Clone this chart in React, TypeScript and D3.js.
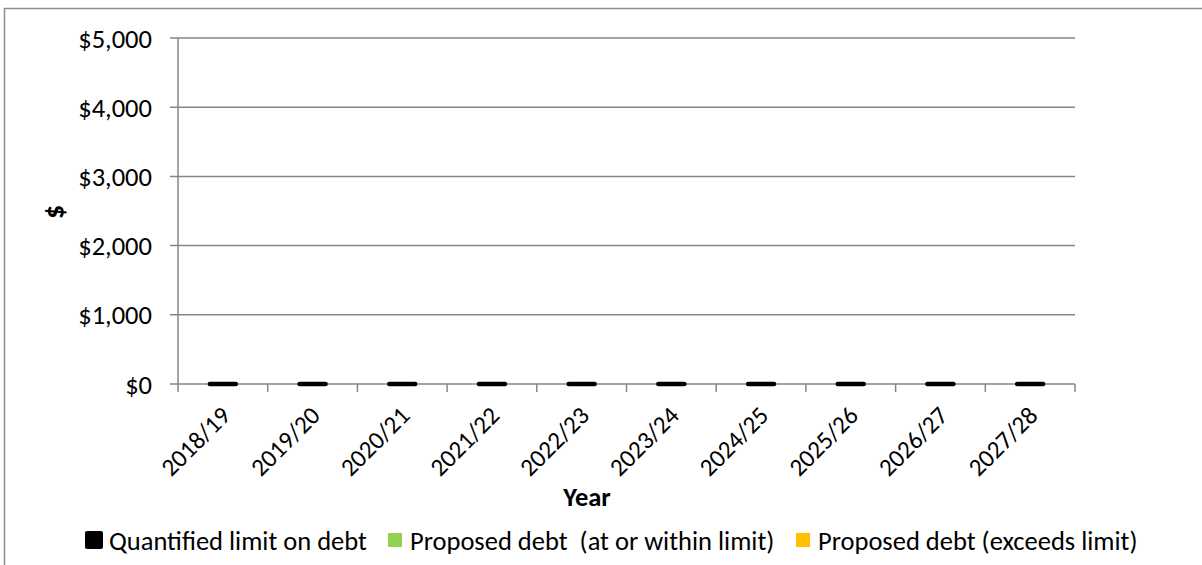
import React, { useEffect, useRef } from "react";
import * as d3 from "d3";

const categories = ["2018/19", "2019/20", "2020/21", "2021/22", "2022/23", "2023/24", "2024/25", "2025/26", "2026/27", "2027/28"];
const quantifiedLimit = [0, 0, 0, 0, 0, 0, 0, 0, 0, 0];
const proposedWithin = [0, 0, 0, 0, 0, 0, 0, 0, 0, 0];
const proposedExceeds = [0, 0, 0, 0, 0, 0, 0, 0, 0, 0];
const yTicks = [0, 1000, 2000, 3000, 4000, 5000];
const legendItems = ["Quantified limit on debt", "Proposed debt  (at or within limit)", "Proposed debt (exceeds limit)"];
const legendColors = ["#000000", "#92d050", "#ffc000"];

const FONT = "Carlito, Lato, 'Open Sans', sans-serif";
const FS = 26.5;

export default function App() {
  const ref = useRef<SVGSVGElement>(null);
  useEffect(() => {
    const svg = d3.select(ref.current);
    svg.selectAll("*").remove();
    const left = 178, right = 1075, top = 38, bottom = 384;

    svg.append("rect").attr("x", 4.5).attr("y", 8.5).attr("width", 1300).attr("height", 700)
      .attr("fill", "white").attr("stroke", "#8c8c8c").attr("stroke-width", 1.5);

    const x = d3.scaleBand<string>().domain(categories).range([left, right]).padding(0);
    const y = d3.scaleLinear().domain([0, 5000]).range([bottom, top]);

    const g = svg.append("g");
    yTicks.forEach((t) => {
      g.append("line").attr("x1", left - 8).attr("x2", right).attr("y1", y(t)).attr("y2", y(t))
        .attr("stroke", "#868686").attr("stroke-width", 1.5);
      g.append("text").attr("x", 152).attr("y", y(t)).attr("dy", "0.36em").attr("text-anchor", "end")
        .attr("font-family", FONT).attr("font-size", FS).attr("fill", "#000").text(d3.format("$,")(t));
    });
    g.append("line").attr("x1", left).attr("x2", left).attr("y1", top).attr("y2", bottom + 8)
      .attr("stroke", "#868686").attr("stroke-width", 1.5);
    categories.forEach((c) => {
      const xx = x(c)! + x.bandwidth();
      g.append("line").attr("x1", xx).attr("x2", xx).attr("y1", bottom).attr("y2", bottom + 8)
        .attr("stroke", "#868686").attr("stroke-width", 1.5);
    });
    categories.forEach((c, i) => {
      const bw = 30;
      const cx = x(c)! + x.bandwidth() / 2;
      const w = proposedWithin[i];
      const e = proposedExceeds[i];
      if (w > 0) g.append("rect").attr("x", cx - bw / 2).attr("width", bw).attr("y", y(w)).attr("height", y(0) - y(w)).attr("fill", legendColors[1]);
      if (e > 0) g.append("rect").attr("x", cx - bw / 2).attr("width", bw).attr("y", y(w + e)).attr("height", y(w) - y(w + e)).attr("fill", legendColors[2]);
    });
    categories.forEach((c, i) => {
      const cx = x(c)! + x.bandwidth() / 2;
      g.append("line").attr("x1", cx - 13).attr("x2", cx + 13).attr("y1", y(quantifiedLimit[i])).attr("y2", y(quantifiedLimit[i]))
        .attr("stroke", "#000").attr("stroke-width", 4.5).attr("stroke-linecap", "round");
    });
    categories.forEach((c) => {
      const cx = x(c)! + x.bandwidth() / 2;
      g.append("text").attr("transform", `translate(${cx + 9},${bottom + 33}) rotate(-45)`)
        .attr("text-anchor", "end")
        .attr("font-family", FONT).attr("font-size", 25).attr("fill", "#000").text(c);
    });
    g.append("text").attr("x", 587).attr("y", 506).attr("text-anchor", "middle")
      .attr("font-family", FONT).attr("font-weight", "bold").attr("font-size", FS).text("Year");
    g.append("text").attr("transform", `translate(63,212) rotate(-90)`).attr("text-anchor", "middle")
      .attr("font-family", FONT).attr("font-weight", "bold").attr("font-size", 28).text("$");

    const legendX = [85, 388, 796];
    legendItems.forEach((t, i) => {
      const s = i === 0 ? 18 : 14;
      g.append("rect").attr("x", legendX[i]).attr("y", 540 - s / 2).attr("width", s).attr("height", s)
        .attr("fill", legendColors[i]).attr("rx", i === 0 ? 2 : 0);
      g.append("text").attr("x", legendX[i] + (i === 0 ? 24 : 22)).attr("y", 540).attr("dy", "0.36em")
        .attr("font-family", FONT).attr("font-size", FS).attr("fill", "#000")
        .style("white-space", "pre").text(t);
    });
  }, []);
  return (
    <svg ref={ref} width={1202} height={565} style={{ position: "absolute", left: 0, top: 0, background: "white" }} />
  );
}
